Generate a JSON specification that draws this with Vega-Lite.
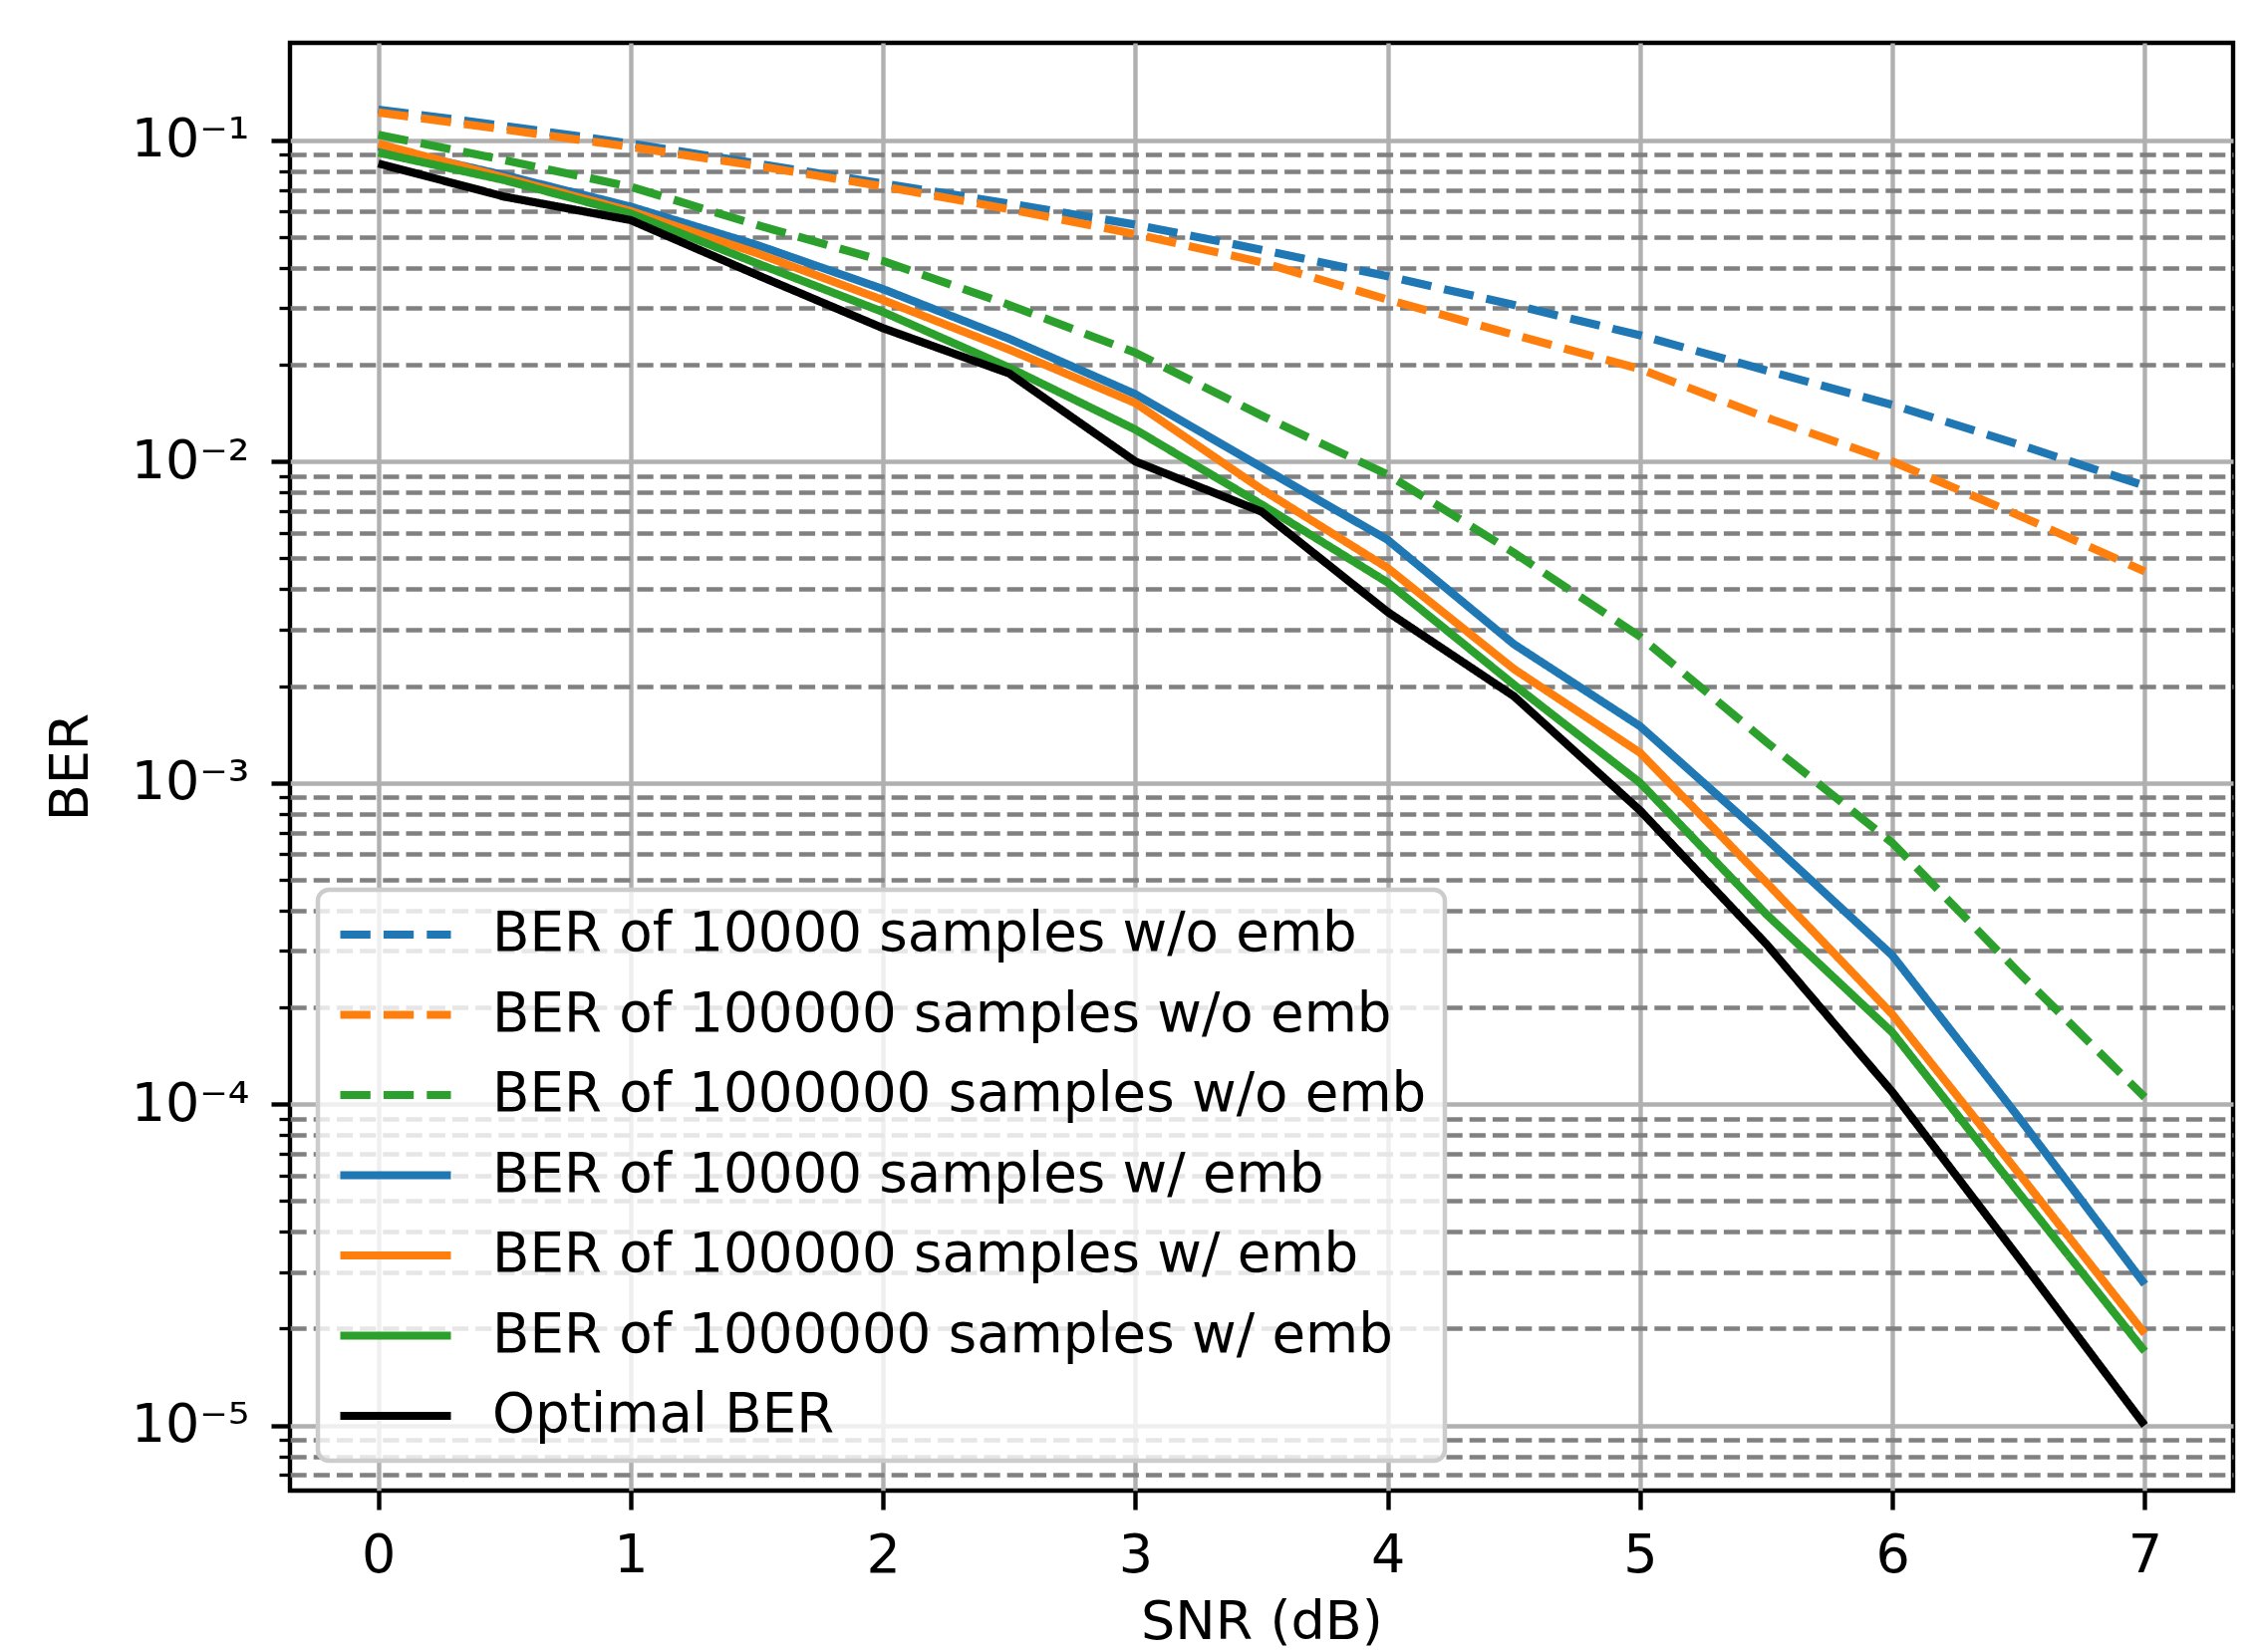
{
  "$schema": "https://vega.github.io/schema/vega-lite/v6.json",
  "width": 1950,
  "height": 1453,
  "autosize": {"type": "none"},
  "padding": {"left": 291, "top": 43, "right": 25, "bottom": 162},
  "background": "white",
  "config": {
    "view": {"stroke": "black", "strokeWidth": 4.4},
    "font": "DejaVu Sans",
    "axis": {
      "domain": false,
      "labelFont": "DejaVu Sans",
      "labelFontSize": 54,
      "labelColor": "black",
      "titleFont": "DejaVu Sans",
      "titleFontSize": 54,
      "titleFontWeight": "normal",
      "titleColor": "black",
      "tickColor": "black",
      "gridColor": "#b0b0b0",
      "gridWidth": 4.4,
      "gridOpacity": 1
    },
    "legend": {
      "symbolType": "stroke",
      "symbolSize": 12321,
      "symbolStrokeWidth": 8.2,
      "clipHeight": 54,
      "rowPadding": 25.5,
      "labelOffset": 37,
      "labelFont": "DejaVu Sans",
      "labelFontSize": 54.6,
      "labelColor": "black",
      "labelLimit": 3000,
      "padding": 18,
      "fillColor": "rgba(255,255,255,0.8)",
      "strokeColor": "#cccccc",
      "strokeWidth": 4.5,
      "cornerRadius": 11
    }
  },
  "data": {
    "values": [
      {"series": "BER of 10000 samples w/o emb", "snr": 0, "ber": 0.1245},
      {"series": "BER of 10000 samples w/o emb", "snr": 0.5, "ber": 0.1108},
      {"series": "BER of 10000 samples w/o emb", "snr": 1, "ber": 0.0976},
      {"series": "BER of 10000 samples w/o emb", "snr": 1.5, "ber": 0.0846},
      {"series": "BER of 10000 samples w/o emb", "snr": 2, "ber": 0.0733},
      {"series": "BER of 10000 samples w/o emb", "snr": 2.5, "ber": 0.0635},
      {"series": "BER of 10000 samples w/o emb", "snr": 3, "ber": 0.0546},
      {"series": "BER of 10000 samples w/o emb", "snr": 3.5, "ber": 0.0456},
      {"series": "BER of 10000 samples w/o emb", "snr": 4, "ber": 0.0377},
      {"series": "BER of 10000 samples w/o emb", "snr": 4.5, "ber": 0.0307},
      {"series": "BER of 10000 samples w/o emb", "snr": 5, "ber": 0.0247},
      {"series": "BER of 10000 samples w/o emb", "snr": 5.5, "ber": 0.0192},
      {"series": "BER of 10000 samples w/o emb", "snr": 6, "ber": 0.0150},
      {"series": "BER of 10000 samples w/o emb", "snr": 6.5, "ber": 0.0113},
      {"series": "BER of 10000 samples w/o emb", "snr": 7, "ber": 0.0084},

      {"series": "BER of 100000 samples w/o emb", "snr": 0, "ber": 0.122},
      {"series": "BER of 100000 samples w/o emb", "snr": 0.5, "ber": 0.108},
      {"series": "BER of 100000 samples w/o emb", "snr": 1, "ber": 0.0953},
      {"series": "BER of 100000 samples w/o emb", "snr": 1.5, "ber": 0.0832},
      {"series": "BER of 100000 samples w/o emb", "snr": 2, "ber": 0.0718},
      {"series": "BER of 100000 samples w/o emb", "snr": 2.5, "ber": 0.061},
      {"series": "BER of 100000 samples w/o emb", "snr": 3, "ber": 0.051},
      {"series": "BER of 100000 samples w/o emb", "snr": 3.5, "ber": 0.0417},
      {"series": "BER of 100000 samples w/o emb", "snr": 4, "ber": 0.0319},
      {"series": "BER of 100000 samples w/o emb", "snr": 4.5, "ber": 0.0248},
      {"series": "BER of 100000 samples w/o emb", "snr": 5, "ber": 0.0194},
      {"series": "BER of 100000 samples w/o emb", "snr": 5.5, "ber": 0.0137},
      {"series": "BER of 100000 samples w/o emb", "snr": 6, "ber": 0.0100},
      {"series": "BER of 100000 samples w/o emb", "snr": 6.5, "ber": 0.0068},
      {"series": "BER of 100000 samples w/o emb", "snr": 7, "ber": 0.00455},

      {"series": "BER of 1000000 samples w/o emb", "snr": 0, "ber": 0.104},
      {"series": "BER of 1000000 samples w/o emb", "snr": 0.5, "ber": 0.0867},
      {"series": "BER of 1000000 samples w/o emb", "snr": 1, "ber": 0.0716},
      {"series": "BER of 1000000 samples w/o emb", "snr": 1.5, "ber": 0.0545},
      {"series": "BER of 1000000 samples w/o emb", "snr": 2, "ber": 0.0421},
      {"series": "BER of 1000000 samples w/o emb", "snr": 2.5, "ber": 0.0307},
      {"series": "BER of 1000000 samples w/o emb", "snr": 3, "ber": 0.0218},
      {"series": "BER of 1000000 samples w/o emb", "snr": 3.5, "ber": 0.0139},
      {"series": "BER of 1000000 samples w/o emb", "snr": 4, "ber": 0.0091},
      {"series": "BER of 1000000 samples w/o emb", "snr": 4.5, "ber": 0.0052},
      {"series": "BER of 1000000 samples w/o emb", "snr": 5, "ber": 0.00285},
      {"series": "BER of 1000000 samples w/o emb", "snr": 5.5, "ber": 0.00134},
      {"series": "BER of 1000000 samples w/o emb", "snr": 6, "ber": 0.00065},
      {"series": "BER of 1000000 samples w/o emb", "snr": 6.5, "ber": 0.000257},
      {"series": "BER of 1000000 samples w/o emb", "snr": 7, "ber": 0.000105},

      {"series": "BER of 10000 samples w/ emb", "snr": 0, "ber": 0.0955},
      {"series": "BER of 10000 samples w/ emb", "snr": 0.5, "ber": 0.0778},
      {"series": "BER of 10000 samples w/ emb", "snr": 1, "ber": 0.0621},
      {"series": "BER of 10000 samples w/ emb", "snr": 1.5, "ber": 0.0472},
      {"series": "BER of 10000 samples w/ emb", "snr": 2, "ber": 0.0344},
      {"series": "BER of 10000 samples w/ emb", "snr": 2.5, "ber": 0.0241},
      {"series": "BER of 10000 samples w/ emb", "snr": 3, "ber": 0.0162},
      {"series": "BER of 10000 samples w/ emb", "snr": 3.5, "ber": 0.0096},
      {"series": "BER of 10000 samples w/ emb", "snr": 4, "ber": 0.0057},
      {"series": "BER of 10000 samples w/ emb", "snr": 4.5, "ber": 0.0027},
      {"series": "BER of 10000 samples w/ emb", "snr": 5, "ber": 0.0015},
      {"series": "BER of 10000 samples w/ emb", "snr": 5.5, "ber": 0.00067},
      {"series": "BER of 10000 samples w/ emb", "snr": 6, "ber": 0.00029},
      {"series": "BER of 10000 samples w/ emb", "snr": 6.5, "ber": 0.000091},
      {"series": "BER of 10000 samples w/ emb", "snr": 7, "ber": 0.0000275},

      {"series": "BER of 100000 samples w/ emb", "snr": 0, "ber": 0.0975},
      {"series": "BER of 100000 samples w/ emb", "snr": 0.5, "ber": 0.0765},
      {"series": "BER of 100000 samples w/ emb", "snr": 1, "ber": 0.0602},
      {"series": "BER of 100000 samples w/ emb", "snr": 1.5, "ber": 0.0445},
      {"series": "BER of 100000 samples w/ emb", "snr": 2, "ber": 0.0318},
      {"series": "BER of 100000 samples w/ emb", "snr": 2.5, "ber": 0.0223},
      {"series": "BER of 100000 samples w/ emb", "snr": 3, "ber": 0.0152},
      {"series": "BER of 100000 samples w/ emb", "snr": 3.5, "ber": 0.0082},
      {"series": "BER of 100000 samples w/ emb", "snr": 4, "ber": 0.00466},
      {"series": "BER of 100000 samples w/ emb", "snr": 4.5, "ber": 0.00226},
      {"series": "BER of 100000 samples w/ emb", "snr": 5, "ber": 0.00124},
      {"series": "BER of 100000 samples w/ emb", "snr": 5.5, "ber": 0.00049},
      {"series": "BER of 100000 samples w/ emb", "snr": 6, "ber": 0.00019},
      {"series": "BER of 100000 samples w/ emb", "snr": 6.5, "ber": 0.000061},
      {"series": "BER of 100000 samples w/ emb", "snr": 7, "ber": 0.0000193},

      {"series": "BER of 1000000 samples w/ emb", "snr": 0, "ber": 0.0915},
      {"series": "BER of 1000000 samples w/ emb", "snr": 0.5, "ber": 0.0751},
      {"series": "BER of 1000000 samples w/ emb", "snr": 1, "ber": 0.0591},
      {"series": "BER of 1000000 samples w/ emb", "snr": 1.5, "ber": 0.0414},
      {"series": "BER of 1000000 samples w/ emb", "snr": 2, "ber": 0.0292},
      {"series": "BER of 1000000 samples w/ emb", "snr": 2.5, "ber": 0.0196},
      {"series": "BER of 1000000 samples w/ emb", "snr": 3, "ber": 0.01257},
      {"series": "BER of 1000000 samples w/ emb", "snr": 3.5, "ber": 0.00735},
      {"series": "BER of 1000000 samples w/ emb", "snr": 4, "ber": 0.0042},
      {"series": "BER of 1000000 samples w/ emb", "snr": 4.5, "ber": 0.00202},
      {"series": "BER of 1000000 samples w/ emb", "snr": 5, "ber": 0.0010},
      {"series": "BER of 1000000 samples w/ emb", "snr": 5.5, "ber": 0.00039},
      {"series": "BER of 1000000 samples w/ emb", "snr": 6, "ber": 0.000167},
      {"series": "BER of 1000000 samples w/ emb", "snr": 6.5, "ber": 0.000053},
      {"series": "BER of 1000000 samples w/ emb", "snr": 7, "ber": 0.000017},

      {"series": "Optimal BER", "snr": 0, "ber": 0.0846},
      {"series": "Optimal BER", "snr": 0.5, "ber": 0.0667},
      {"series": "Optimal BER", "snr": 1, "ber": 0.0564},
      {"series": "Optimal BER", "snr": 1.5, "ber": 0.0381},
      {"series": "Optimal BER", "snr": 2, "ber": 0.026},
      {"series": "Optimal BER", "snr": 2.5, "ber": 0.0188},
      {"series": "Optimal BER", "snr": 3, "ber": 0.0100},
      {"series": "Optimal BER", "snr": 3.5, "ber": 0.00698},
      {"series": "Optimal BER", "snr": 4, "ber": 0.0034},
      {"series": "Optimal BER", "snr": 4.5, "ber": 0.00186},
      {"series": "Optimal BER", "snr": 5, "ber": 0.00082},
      {"series": "Optimal BER", "snr": 5.5, "ber": 0.000315},
      {"series": "Optimal BER", "snr": 6, "ber": 0.000109},
      {"series": "Optimal BER", "snr": 6.5, "ber": 0.0000333},
      {"series": "Optimal BER", "snr": 7, "ber": 0.00001}
    ]
  },
  "encoding": {
    "x": {
      "field": "snr",
      "type": "quantitative",
      "scale": {"domain": [-0.35, 7.35], "nice": false, "zero": false},
      "axis": {
        "values": [0, 1, 2, 3, 4, 5, 6, 7],
        "format": "d",
        "title": "SNR (dB)",
        "tickSize": 19,
        "tickWidth": 4.4,
        "labelPadding": 19,
        "titlePadding": 13,
        "grid": true,
        "labelFlush": false
      }
    },
    "color": {
      "field": "series",
      "type": "nominal",
      "scale": {
        "domain": ["BER of 10000 samples w/o emb", "BER of 100000 samples w/o emb", "BER of 1000000 samples w/o emb", "BER of 10000 samples w/ emb", "BER of 100000 samples w/ emb", "BER of 1000000 samples w/ emb", "Optimal BER"],
        "range": ["#1f77b4", "#ff7f0e", "#2ca02c", "#1f77b4", "#ff7f0e", "#2ca02c", "#000000"]
      },
      "legend": {"title": null, "orient": "none", "legendX": 28, "legendY": 850}
    },
    "strokeDash": {
      "field": "series",
      "type": "nominal",
      "scale": {
        "domain": ["BER of 10000 samples w/o emb", "BER of 100000 samples w/o emb", "BER of 1000000 samples w/o emb", "BER of 10000 samples w/ emb", "BER of 100000 samples w/ emb", "BER of 1000000 samples w/ emb", "Optimal BER"],
        "range": [[30.3, 13.1], [30.3, 13.1], [30.3, 13.1], [1, 0], [1, 0], [1, 0], [1, 0]]
      },
      "legend": {"title": null, "orient": "none", "legendX": 28, "legendY": 850}
    }
  },
  "layer": [
    {
      "transform": [{"filter": {"field": "series", "oneOf": ["BER of 10000 samples w/o emb", "BER of 100000 samples w/o emb", "BER of 1000000 samples w/o emb"]}}],
      "mark": {"type": "line", "strokeWidth": 8.2, "clip": true},
      "encoding": {
        "y": {
          "field": "ber",
          "type": "quantitative",
          "scale": {"type": "log", "domain": [0.000006266, 0.2009], "nice": false},
          "axis": {
            "orient": "left",
            "values": [0.00001, 0.0001, 0.001, 0.01, 0.1],
            "labelExpr": "'10⁻' + ['⁰','¹','²','³','⁴','⁵','⁶'][round(-log(datum.value)/LN10)]",
            "title": "BER",
            "tickSize": 19,
            "tickWidth": 4.4,
            "labelPadding": 22,
            "titlePadding": 33,
            "grid": true,
            "labelOverlap": false
          }
        }
      }
    },
    {
      "transform": [{"filter": {"field": "series", "oneOf": ["BER of 10000 samples w/ emb", "BER of 100000 samples w/ emb", "BER of 1000000 samples w/ emb"]}}],
      "mark": {"type": "line", "strokeWidth": 8.2, "clip": true},
      "encoding": {
        "y": {
          "field": "ber",
          "type": "quantitative",
          "scale": {"type": "log", "domain": [0.000006266, 0.2009], "nice": false},
          "axis": {
            "orient": "left",
            "values": [0.000007, 0.000008, 0.000009, 0.00002, 0.00003, 0.00004, 0.00005, 0.00006, 0.00007, 0.00008, 0.00009, 0.0002, 0.0003, 0.0004, 0.0005, 0.0006, 0.0007, 0.0008, 0.0009, 0.002, 0.003, 0.004, 0.005, 0.006, 0.007, 0.008, 0.009, 0.02, 0.03, 0.04, 0.05, 0.06, 0.07, 0.08, 0.09],
            "labels": false,
            "title": null,
            "tickSize": 11,
            "tickWidth": 3.3,
            "grid": true,
            "gridColor": "#808080",
            "gridDash": [16.2, 7],
            "gridWidth": 4.4
          }
        }
      }
    },
    {
      "transform": [{"filter": {"field": "series", "equal": "Optimal BER"}}],
      "mark": {"type": "line", "strokeWidth": 8.2, "clip": true},
      "encoding": {
        "y": {
          "field": "ber",
          "type": "quantitative",
          "scale": {"type": "log", "domain": [0.000006266, 0.2009], "nice": false},
          "axis": null
        }
      }
    }
  ],
  "resolve": {"axis": {"y": "independent"}}
}
